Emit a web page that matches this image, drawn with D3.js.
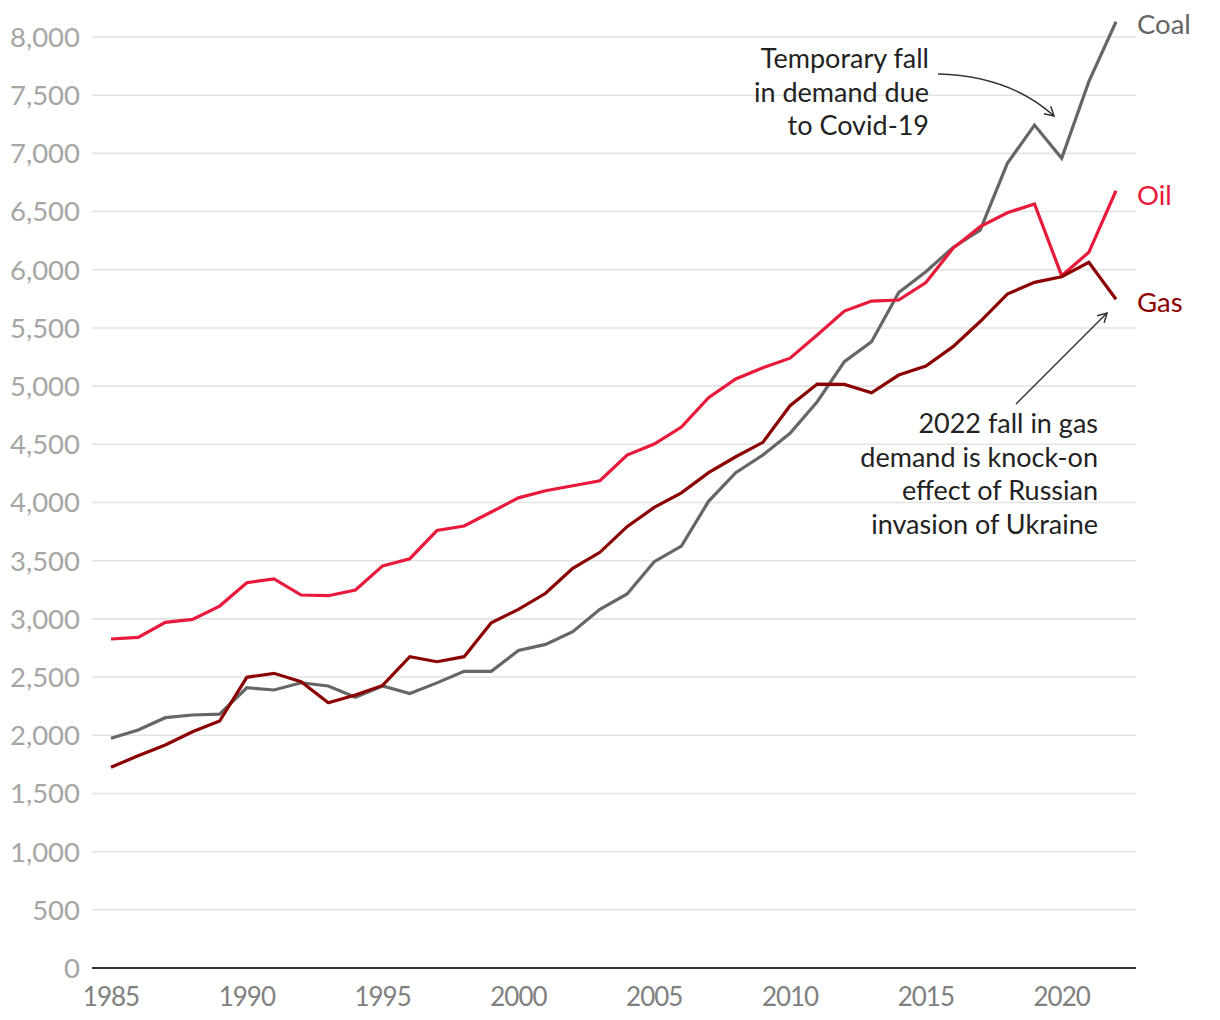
<!DOCTYPE html>
<html>
<head>
<meta charset="utf-8">
<script src="https://cdn.jsdelivr.net/npm/d3@7"></script>
<style>
  html, body { margin: 0; padding: 0; background: #fff; }
  svg { display: block; }
</style>
</head>
<body>
<svg id="chart" width="1220" height="1020"></svg>
<script>
const years = d3.range(1985, 2023);
const coal = [1974, 2045, 2151, 2174, 2182, 2408, 2389, 2451, 2423, 2326,
              2423, 2358, 2450, 2549, 2549, 2728, 2781, 2890, 3082, 3214,
              3491, 3626, 4010, 4256, 4408, 4594, 4866, 5210, 5381, 5805,
              5983, 6192, 6341, 6914, 7243, 6957, 7616, 8131];
const oil = [2827, 2841, 2970, 2996, 3110, 3311, 3343, 3205, 3199, 3248,
             3455, 3517, 3759, 3798, 3918, 4040, 4101, 4144, 4187, 4408,
             4502, 4648, 4901, 5061, 5158, 5240, 5439, 5645, 5731, 5740,
             5890, 6184, 6370, 6490, 6565, 5949, 6150, 6679];
const gas = [1725, 1824, 1916, 2030, 2122, 2498, 2532, 2460, 2280, 2346,
             2428, 2675, 2632, 2675, 2967, 3082, 3220, 3434, 3572, 3792,
             3958, 4083, 4256, 4393, 4517, 4832, 5018, 5015, 4943, 5095,
             5173, 5339, 5555, 5791, 5892, 5940, 6064, 5746];
const yTicks = d3.range(0, 8001, 500);
const xTicks = [1985, 1990, 1995, 2000, 2005, 2010, 2015, 2020];
const seriesNames = ["Coal", "Oil", "Gas"];
const seriesColors = ["#666666", "#e8193a", "#8b0000"];
const covidNote = ["Temporary fall", "in demand due", "to Covid-19"];
const gasNote = ["2022 fall in gas", "demand is knock-on", "effect of Russian", "invasion of Ukraine"];

const svg = d3.select("#chart");
const font = "Lato, 'Open Sans', sans-serif";
const x = d3.scaleLinear().domain([1985, 2022]).range([111, 1116]);
const y = d3.scaleLinear().domain([0, 8000]).range([968, 37]);
const plotLeft = 92, plotRight = 1136;

// gridlines
svg.append("g").selectAll("line").data(yTicks.filter(d => d > 0)).join("line")
  .attr("x1", plotLeft).attr("x2", plotRight)
  .attr("y1", d => y(d)).attr("y2", d => y(d))
  .attr("stroke", "#e3e3e3").attr("stroke-width", 1.6);

// y labels
svg.append("g").selectAll("text").data(yTicks).join("text")
  .attr("x", 80).attr("y", d => y(d)).attr("dy", "0.36em")
  .attr("text-anchor", "end")
  .attr("font-family", font).attr("font-size", 27.5)
  .attr("fill", "#a6a6a6")
  .text(d => d3.format(",")(d));

// x axis baseline
svg.append("line").attr("x1", plotLeft).attr("x2", plotRight)
  .attr("y1", y(0)).attr("y2", y(0))
  .attr("stroke", "#333").attr("stroke-width", 2);

// x labels
svg.append("g").selectAll("text").data(xTicks).join("text")
  .attr("x", d => x(d)).attr("y", 1006)
  .attr("text-anchor", "middle")
  .attr("font-family", font)
  .attr("font-size", 26)
  .attr("letter-spacing", -1)
  .attr("fill", "#808080")
  .text(d => d);

// lines
const data = [coal, oil, gas];
const line = d3.line().x((d, i) => x(years[i])).y(d => y(d));
[0, 1, 2].forEach(k => {
  svg.append("path").datum(data[k])
    .attr("d", line)
    .attr("fill", "none")
    .attr("stroke", seriesColors[k])
    .attr("stroke-width", 3.2)
    .attr("stroke-linejoin", "miter");
});

// series labels
const labelY = [24, 195, 302];
seriesNames.forEach((n, k) => {
  svg.append("text")
    .attr("x", 1137).attr("y", labelY[k]).attr("dy", "0.36em")
    .attr("font-family", font).attr("font-size", 27.5)
    .attr("fill", seriesColors[k])
    .text(n);
});

// annotations
svg.append("defs").append("marker")
  .attr("id", "arrow").attr("viewBox", "0 0 12 12")
  .attr("refX", 10).attr("refY", 6)
  .attr("markerWidth", 12).attr("markerHeight", 12)
  .attr("markerUnits", "userSpaceOnUse")
  .attr("orient", "auto")
  .append("path").attr("d", "M1,1 L10,6 L1,11")
  .attr("fill", "none").attr("stroke", "#333").attr("stroke-width", 1.5);

const covid = svg.append("text")
  .attr("font-family", font).attr("font-size", 27).attr("fill", "#222")
  .attr("text-anchor", "end");
covidNote.forEach((t, i) => covid.append("tspan").attr("x", 929).attr("y", 68 + i * 33.5).text(t));

svg.append("path")
  .attr("d", "M938,74 Q1010,76 1054,116")
  .attr("fill", "none").attr("stroke", "#333").attr("stroke-width", 1.5)
  .attr("marker-end", "url(#arrow)");

const gasT = svg.append("text")
  .attr("font-family", font).attr("font-size", 27).attr("fill", "#222")
  .attr("text-anchor", "end");
gasNote.forEach((t, i) => gasT.append("tspan").attr("x", 1098).attr("y", 433 + i * 33.5).text(t));

svg.append("path")
  .attr("d", "M1016,404 L1107,313")
  .attr("fill", "none").attr("stroke", "#333").attr("stroke-width", 1.5)
  .attr("marker-end", "url(#arrow)");
</script>
</body>
</html>
